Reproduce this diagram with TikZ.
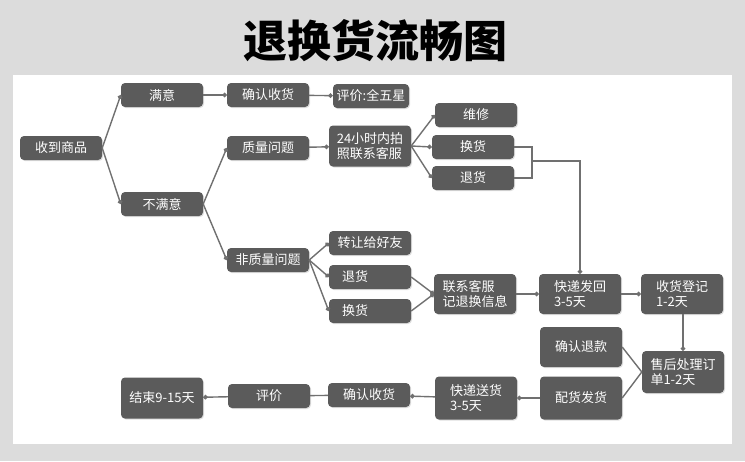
\documentclass[tikz,border=0pt]{standalone}
\usepackage{fontspec}
\setmainfont{Noto Sans CJK SC}
\usetikzlibrary{arrows.meta,shadows}
\definecolor{boxgray}{HTML}{5B5B5B}
\definecolor{linegray}{HTML}{707070}
\definecolor{pagegray}{HTML}{DCDCDC}

\begin{document}
\begin{tikzpicture}[x=1pt, y=-1pt,
  box/.style={fill=boxgray, rounded corners=4pt, text=white, font=\fontsize{13}{15.5}\selectfont, minimum width=82pt, minimum height=24pt, inner sep=2pt, drop shadow={opacity=0.25, shadow xshift=1pt, shadow yshift=-1pt}},
  tall/.style={box, minimum height=40pt, align=left},
  lft/.style={text width=56pt, align=left},
  link/.style={draw=linegray, line width=1.4pt, -{Circle[length=4.5pt]}},
  plain/.style={draw=linegray, line width=1.4pt}]
  \useasboundingbox (0,0) rectangle (745,461);
  \fill[pagegray] (0,0) rectangle (745,461);
  \fill[white] (13,75) rectangle (732,444);
  \node[font=\fontsize{44}{48}\selectfont\bfseries] (title) at (375,41) {退换货流畅图};
  % first branch
  \node[box] (rcv) at (61,148) {收到商品};
  \node[box] (sat) at (162,95) {满意};
  \node[box] (unsat) at (162,204) {不满意};
  \node[box] (conf1) at (268,95) {确认收货};
  \node[box, minimum width=76pt] (five) at (371,96) {评价:全五星};
  % quality problems
  \node[box] (qual) at (268,148) {质量问题};
  \node[tall, minimum height=41pt] (photo) at (370,146) {24小时内拍\\照联系客服};
  \node[box] (repair) at (476,115) {维修};
  \node[box] (exch) at (473,147) {换货};
  \node[box] (ret) at (473,178) {退货};
  % other problems
  \node[box] (nonq) at (268,260) {非质量问题};
  \node[box] (gift) at (370,243) {转让给好友};
  \node[box, lft] (ret2) at (370,277) {退货};
  \node[box, lft] (exch2) at (370,311) {换货};
  \node[tall] (info) at (475,294) {联系客服\\记退换信息};
  \node[tall] (back) at (580,294) {快递发回\\3-5天};
  \node[tall] (reg) at (682,294) {收货登记\\1-2天};
  % after-sale
  \node[tall] (refund) at (581,347) {确认退款};
  \node[tall, minimum height=42pt] (after) at (683,372) {售后处理订\\单1-2天};
  \node[tall, minimum height=43pt] (ship) at (581,398) {配货发货};
  \node[tall, minimum height=43pt] (deliver) at (476,398) {快递送货\\3-5天};
  \node[box] (conf2) at (369,395) {确认收货};
  \node[box] (rate) at (269,396) {评价};
  \node[tall, minimum height=41pt] (fin) at (162,398) {结束9-15天};
  \coordinate (jq) at (532,161);
  \draw[link] (rcv.east) -- (sat.west);
  \draw[link] (rcv.east) -- (unsat.west);
  \draw[link] (sat) -- (conf1);
  \draw[link] (conf1) -- (five);
  \draw[link] (unsat.east) -- (qual.west);
  \draw[link] (unsat.east) -- (nonq.west);
  \draw[link] (qual) -- (photo);
  \draw[link] (photo.east) -- (repair.west);
  \draw[link] (photo.east) -- (exch.west);
  \draw[link] (photo.east) -- (ret.west);
  \draw[plain] (exch.east) -| (jq);
  \draw[plain] (ret.east) -| (jq);
  \draw[link] (jq) -| (back.north);
  \draw[link] (nonq.east) -- (gift.west);
  \draw[link] (nonq.east) -- (ret2.west);
  \draw[link] (nonq.east) -- (exch2.west);
  \draw[link] (ret2.east) -- (info.west);
  \draw[link] (exch2.east) -- (info.west);
  \draw[link] (info) -- (back);
  \draw[link] (back) -- (reg);
  \draw[link] (reg.south -| after.north) -- (after.north);
  \draw[plain] (after.west) -- (refund.east);
  \draw[plain] (after.west) -- (ship.east);
  \draw[link] (ship) -- (deliver);
  \draw[link] (deliver) -- (conf2);
  \draw[plain] (conf2) -- (rate);
  \draw[link] (rate) -- (fin);
\end{tikzpicture}
\end{document}
